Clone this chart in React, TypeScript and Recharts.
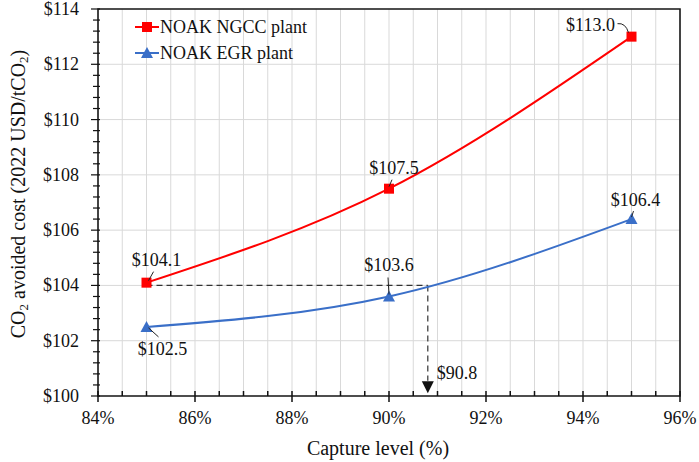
import React from 'react'
import {
  LineChart,
  Line,
  XAxis,
  YAxis,
  CartesianGrid,
  LabelList,
  Label,
  ReferenceLine,
  ReferenceArea,
  ReferenceDot
} from 'recharts'

// capture level (%) and avoided cost (2022 USD/tCO2)
const captureLevels = [85, 90, 95]
const ngccCost = [104.1, 107.5, 113.0]
const egrCost = [102.5, 103.6, 106.4]

const xTicks = [84, 86, 88, 90, 92, 94, 96]
const xMinorTicks = [
  84, 84.5, 85, 85.5, 86, 86.5, 87, 87.5, 88, 88.5, 89, 89.5, 90,
  90.5, 91, 91.5, 92, 92.5, 93, 93.5, 94, 94.5, 95, 95.5, 96
]
const yTicks = [100, 102, 104, 106, 108, 110, 112, 114]
const yMinorTicks = [
  100, 100.4, 100.8, 101.2, 101.6, 102, 102.4, 102.8, 103.2, 103.6, 104,
  104.4, 104.8, 105.2, 105.6, 106, 106.4, 106.8, 107.2, 107.6, 108,
  108.4, 108.8, 109.2, 109.6, 110, 110.4, 110.8, 111.2, 111.6, 112,
  112.4, 112.8, 113.2, 113.6, 114
]

// equal-cost annotation: EGR at same cost as NGCC at 85%
const equalCost = 104
const equalCostFrom = 85
const equalCapture = 90.8
const arrowTop = 100.55
const arrowTip = 100.1

const NGCC_NAME = 'NOAK NGCC plant'
const EGR_NAME = 'NOAK EGR plant'
const RED = '#ff0000'
const BLUE = '#3a6fc8'
const FONT = 'Liberation Serif, serif'
const INK = '#111'

const chartData = captureLevels.map((c, i) => ({
  capture: c,
  ngcc: ngccCost[i],
  egr: egrCost[i]
}))

// label offsets from the point, plus leader line (relative to the point)
const ngccLabelPos = [
  { dx: 10, dy: -23, lead: 'M7,-11 L2,-2' },
  { dx: 5, dy: -21, lead: 'M3,-9 L0,-2' },
  { dx: -41, dy: -12, lead: 'M-14,-13 Q-6,-14 -3,-4' }
]
const egrLabelPos = [
  { dx: 16, dy: 22, lead: 'M12,10 L2,1' },
  { dx: 0, dy: -31, lead: 'M-1,-19 L0,-2' },
  { dx: 4, dy: -19, lead: 'M2,-8 L0,-2' }
]

const textStyle = { fontFamily: FONT }

const SquareDot = (props: any) => {
  const { cx, cy } = props
  if (cx == null || cy == null) return null
  return <rect x={cx - 5} y={cy - 5} width={10} height={10} fill={RED} />
}

const TriangleDot = (props: any) => {
  const { cx, cy } = props
  if (cx == null || cy == null) return null
  return (
    <polygon
      points={`${cx},${cy - 6} ${cx - 6},${cy + 5} ${cx + 6},${cy + 5}`}
      fill={BLUE}
    />
  )
}

const makeLabel = (pos: { dx: number; dy: number; lead: string }[]) => (props: any) => {
  const { x, y, value, index } = props
  const p = pos[index]
  if (!p || x == null || y == null) return null
  return (
    <g>
      <path d={p.lead} transform={`translate(${x},${y})`} stroke="#222" strokeWidth={1} fill="none" />
      <text
        x={x + p.dx}
        y={y + p.dy}
        textAnchor="middle"
        dominantBaseline="central"
        style={textStyle}
        fontSize={18}
        fill={INK}
      >
        ${Number(value).toFixed(1)}
      </text>
    </g>
  )
}

const XTick = (props: any) => {
  const { x, y, payload } = props
  const major = xTicks.includes(payload.value)
  return (
    <g>
      <line x1={x} x2={x} y1={y - 5} y2={major ? y + 6 : y} stroke={INK} strokeWidth={1.5} />
      {major && (
        <text x={x} y={y + 22} textAnchor="middle" dominantBaseline="central" style={textStyle} fontSize={18} fill={INK}>
          {payload.value}%
        </text>
      )}
    </g>
  )
}

const YTick = (props: any) => {
  const { x, y, payload } = props
  const major = yTicks.includes(payload.value)
  return (
    <g>
      <line x1={major ? x - 7 : x - 5} x2={x + 2} y1={y} y2={y} stroke={INK} strokeWidth={1.2} />
      {major && (
        <text x={x - 19} y={y} textAnchor="end" dominantBaseline="central" style={textStyle} fontSize={18} fill={INK}>
          ${payload.value}
        </text>
      )}
    </g>
  )
}

const YTitle = () => (
  <text
    x={18}
    y={194}
    transform="rotate(-90, 18, 194)"
    textAnchor="middle"
    dominantBaseline="central"
    style={textStyle}
    fontSize={20}
    fill={INK}
  >
    CO<tspan fontSize={13} dy={5}>2</tspan>
    <tspan dy={-5}> avoided cost (2022 USD/tCO</tspan>
    <tspan fontSize={13} dy={5}>2</tspan>
    <tspan dy={-5}>)</tspan>
  </text>
)

const XTitle = () => (
  <text x={378} y={448} textAnchor="middle" dominantBaseline="central" style={textStyle} fontSize={20} fill={INK}>
    Capture level (%)
  </text>
)

const ArrowHead = (props: any) => {
  const { cx, cy } = props
  if (cx == null || cy == null) return null
  return (
    <g>
      <polygon points={`${cx},${cy} ${cx - 6},${cy - 12} ${cx + 6},${cy - 12}`} fill={INK} />
      <text x={cx + 9} y={cy - 20} dominantBaseline="central" style={textStyle} fontSize={18} fill={INK}>
        ${equalCapture}
      </text>
    </g>
  )
}

const LegendBox = () => {
  const rows = [
    { name: NGCC_NAME, color: RED, marker: 'square' },
    { name: EGR_NAME, color: BLUE, marker: 'triangle' }
  ]
  return (
    <div
      style={{
        position: 'absolute',
        left: 133,
        top: 14,
        fontFamily: FONT,
        fontSize: 18,
        color: INK,
        lineHeight: '26px'
      }}
    >
      {rows.map(r => (
        <div key={r.name} style={{ display: 'flex', alignItems: 'center', height: 26 }}>
          <svg width={26} height={14} style={{ marginRight: 1 }}>
            <line x1={2} x2={26} y1={7} y2={7} stroke={r.color} strokeWidth={2} />
            {r.marker === 'square' ? (
              <rect x={9} y={2} width={10} height={10} fill={r.color} />
            ) : (
              <polygon points="14,1 8,12 20,12" fill={r.color} />
            )}
          </svg>
          <span>{r.name}</span>
        </div>
      ))}
    </div>
  )
}

export default function App() {
  return (
    <div style={{ position: 'absolute', left: 0, top: 0, width: 699, height: 462, background: '#fff' }}>
      <LineChart
        width={699}
        height={462}
        data={chartData}
        margin={{ top: 9, right: 19, left: 38, bottom: 36 }}
      >
        <CartesianGrid
          stroke="#d9d9d9"
          strokeWidth={1}
          horizontalValues={yTicks}
          verticalValues={xMinorTicks}
        />
        <XAxis
          type="number"
          dataKey="capture"
          domain={[84, 96]}
          ticks={xMinorTicks}
          interval={0}
          tickSize={0}
          tickMargin={0}
          axisLine={false}
          tickLine={false}
          tick={<XTick />}
          height={30}
        >
          <Label content={<XTitle />} />
        </XAxis>
        <YAxis
          type="number"
          domain={[100, 114]}
          ticks={yMinorTicks}
          interval={0}
          tickSize={0}
          tickMargin={0}
          axisLine={false}
          tickLine={false}
          tick={<YTick />}
          width={60}
        >
          <Label content={<YTitle />} />
        </YAxis>
        <ReferenceArea x1={84} x2={96} y1={100} y2={114} fill="none" stroke="#1a1a1a" strokeWidth={1.6} ifOverflow="extendDomain" />
        <ReferenceLine
          segment={[{ x: equalCostFrom, y: equalCost }, { x: equalCapture, y: equalCost }]}
          stroke="#333"
          strokeDasharray="6 4"
          strokeWidth={1.2}
        />
        <ReferenceLine
          segment={[{ x: equalCapture, y: equalCost }, { x: equalCapture, y: arrowTop }]}
          stroke="#333"
          strokeDasharray="6 4"
          strokeWidth={1.2}
        />
        <ReferenceDot x={equalCapture} y={arrowTip} shape={<ArrowHead />} />
        <Line
          type="natural"
          dataKey="ngcc"
          name={NGCC_NAME}
          stroke={RED}
          strokeWidth={2}
          dot={<SquareDot />}
          activeDot={false}
          isAnimationActive={false}
        >
          <LabelList dataKey="ngcc" content={makeLabel(ngccLabelPos)} />
        </Line>
        <Line
          type="natural"
          dataKey="egr"
          name={EGR_NAME}
          stroke={BLUE}
          strokeWidth={2}
          dot={<TriangleDot />}
          activeDot={false}
          isAnimationActive={false}
        >
          <LabelList dataKey="egr" content={makeLabel(egrLabelPos)} />
        </Line>
      </LineChart>
      <LegendBox />
    </div>
  )
}
